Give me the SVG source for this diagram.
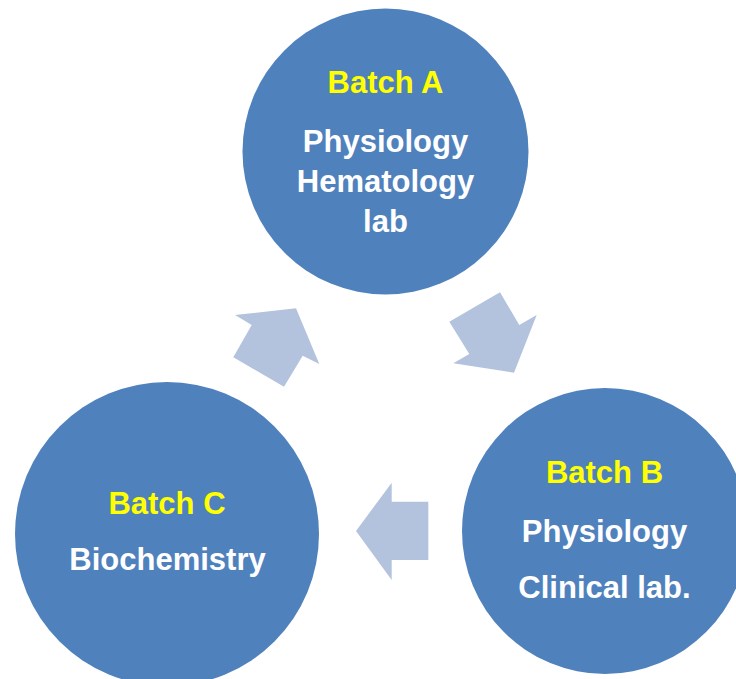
<svg xmlns="http://www.w3.org/2000/svg" width="736" height="679" viewBox="0 0 736 679">
<style>
.node{fill:#4F81BD}
.arr{fill:#B3C3DE}
text{font-family:"Liberation Sans",Arial,sans-serif;font-weight:bold;font-size:31px;text-anchor:middle}
.t{fill:#FFFF00}
.b{fill:#FFFFFF}
</style>
<rect width="736" height="679" fill="#FFFFFF"/>
<g id="connectors">
<polygon class="arr" points="235,315 296,308.3 319.3,364 302.7,355.7 284,386.7 233.3,357.3 251.7,325"/>
<polygon class="arr" points="500,292.3 519.3,325 536.7,315 514,372.7 453.3,363.3 469.3,354 449.3,321.7"/>
<polygon class="arr" points="356,531 391.7,482.7 391.7,501.7 428.3,501.7 428.3,560 391.7,560 391.7,580"/>
</g>
<g id="batchA">
<circle class="node" cx="385.5" cy="151.5" r="143"/>
<text class="t" x="385.5" y="93">Batch A</text>
<text class="b" x="385.5" y="152">Physiology</text>
<text class="b" x="385.5" y="192">Hematology</text>
<text class="b" x="385.5" y="232">lab</text>
</g>
<g id="batchB">
<circle class="node" cx="605" cy="531" r="143"/>
<text class="t" x="604.5" y="483">Batch B</text>
<text class="b" x="604.5" y="542">Physiology</text>
<text class="b" x="604.5" y="598">Clinical lab.</text>
</g>
<g id="batchC">
<circle class="node" cx="167" cy="534" r="152"/>
<text class="t" x="167" y="514">Batch C</text>
<text class="b" x="167.5" y="570">Biochemistry</text>
</g>
</svg>
